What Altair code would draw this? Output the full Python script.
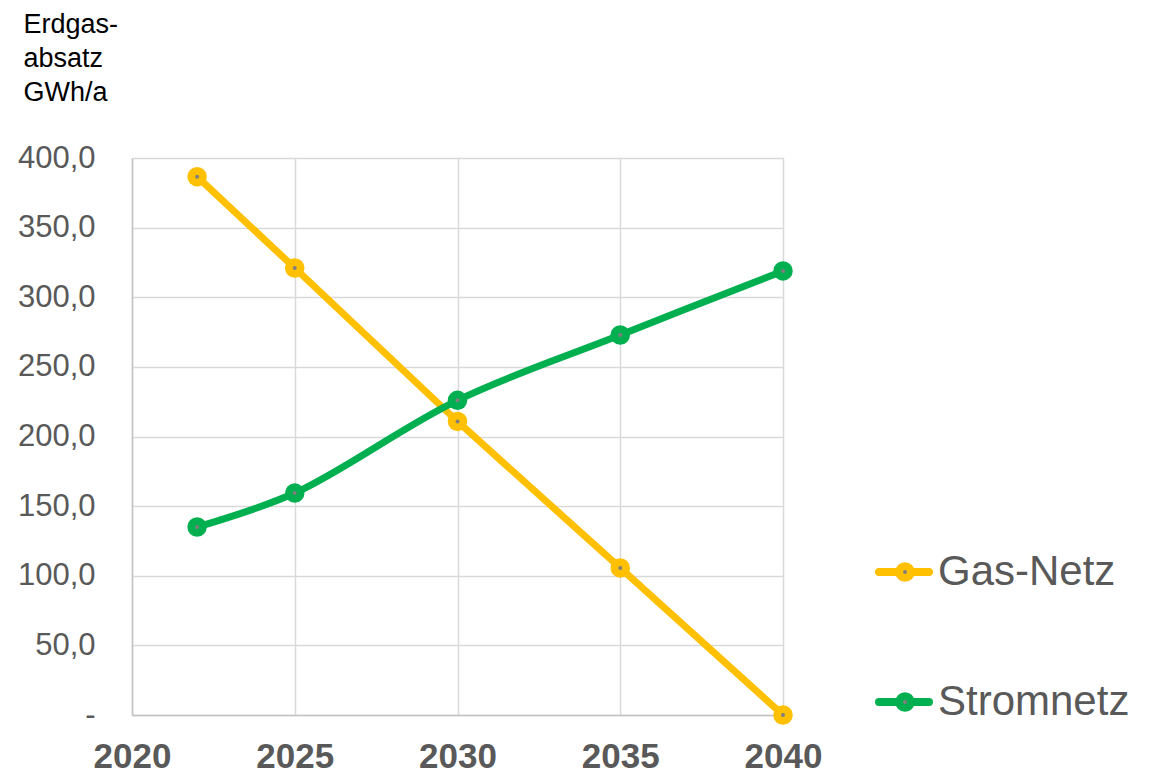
import altair as alt
import pandas as pd

# ---- data ----
years = [2022, 2025, 2030, 2035, 2040]
gas_netz = [386.6, 321.0, 210.8, 105.6, 0.0]
stromnetz = [135.0, 159.4, 226.0, 272.9, 318.9]
series_names = ["Gas-Netz", "Stromnetz"]
series_colors = ["#FFC000", "#00B050"]
x_ticks = [2020, 2025, 2030, 2035, 2040]
y_ticks = [0, 50, 100, 150, 200, 250, 300, 350, 400]
y_title = ["Erdgas-", "absatz", "GWh/a"]

df = pd.DataFrame({
    "Jahr": years + years,
    "Wert": gas_netz + stromnetz,
    "Serie": [series_names[0]] * len(years) + [series_names[1]] * len(years),
})
legend_df = pd.DataFrame({"Serie": series_names})

FONT = "Liberation Sans"
GRID = "#d9d9d9"
AXIS = "#c4c4c4"
LABEL = "#595959"

x_enc = alt.X(
    "Jahr:Q",
    scale=alt.Scale(domain=[2020, 2040], nice=False, zero=False),
    axis=alt.Axis(
        values=x_ticks, format="d", title=None,
        labelFont=FONT, labelFontSize=35, labelFontWeight="bold", labelColor=LABEL,
        labelPadding=24, labelFlush=False, labelOverlap=False,
        ticks=False, grid=True, gridColor=GRID, gridWidth=1.5,
        domainColor=AXIS, domainWidth=1.5,
    ),
)
y_enc = alt.Y(
    "Wert:Q",
    scale=alt.Scale(domain=[0, 400], nice=False),
    axis=alt.Axis(
        values=y_ticks,
        labelExpr="datum.value == 0 ? '-' : replace(format(datum.value, '.1f'), '.', ',')",
        labelFont=FONT, labelFontSize=31, labelColor=LABEL, labelPadding=37,
        labelOverlap=False, labelFlush=False,
        ticks=False, grid=True, gridColor=GRID, gridWidth=1.5,
        domainColor=AXIS, domainWidth=1.5,
        title=y_title, titleAngle=0, titleAlign="left", titleBaseline="alphabetic",
        titleX=-109, titleY=-126, titleFont=FONT, titleFontSize=27,
        titleFontWeight="normal", titleColor="#000000", titleLineHeight=34,
    ),
)

layers = []
interps = ["linear", "catmull-rom"]
legend_y = [414, 544]
for name, color, interp, ly in zip(series_names, series_colors, interps, legend_y):
    base = alt.Chart(df).transform_filter(alt.datum.Serie == name)
    layers.append(base.mark_line(color=color, strokeWidth=7, interpolate=interp,
                                 strokeCap="round", strokeJoin="round").encode(x=x_enc, y=y_enc))
    layers.append(base.mark_circle(color=color, size=380, opacity=1).encode(x=x_enc, y=y_enc))
    layers.append(base.mark_circle(color="#7f7f7f", size=16, opacity=1).encode(x=x_enc, y=y_enc))

    lbase = alt.Chart(legend_df).transform_filter(alt.datum.Serie == name)
    layers.append(lbase.mark_rule(color=color, strokeWidth=8, strokeCap="round").encode(
        x=alt.value(747), x2=alt.value(797), y=alt.value(ly)))
    layers.append(lbase.mark_circle(color=color, size=380, opacity=1).encode(
        x=alt.value(773), y=alt.value(ly)))
    layers.append(lbase.mark_circle(color="#7f7f7f", size=16, opacity=1).encode(
        x=alt.value(773), y=alt.value(ly)))
    layers.append(lbase.mark_text(align="left", baseline="middle", font=FONT, fontSize=42,
                                  color=LABEL).encode(
        x=alt.value(806), y=alt.value(ly), text="Serie:N"))

chart = alt.layer(*layers).properties(
    width=651, height=557,
    autosize=alt.AutoSizeParams(type="none"),
    padding={"left": 124, "top": 150, "right": 367, "bottom": 58},
).configure_view(stroke=None).configure(background="white")

chart.save("out.html", embed_options={"renderer": "svg", "actions": False})
